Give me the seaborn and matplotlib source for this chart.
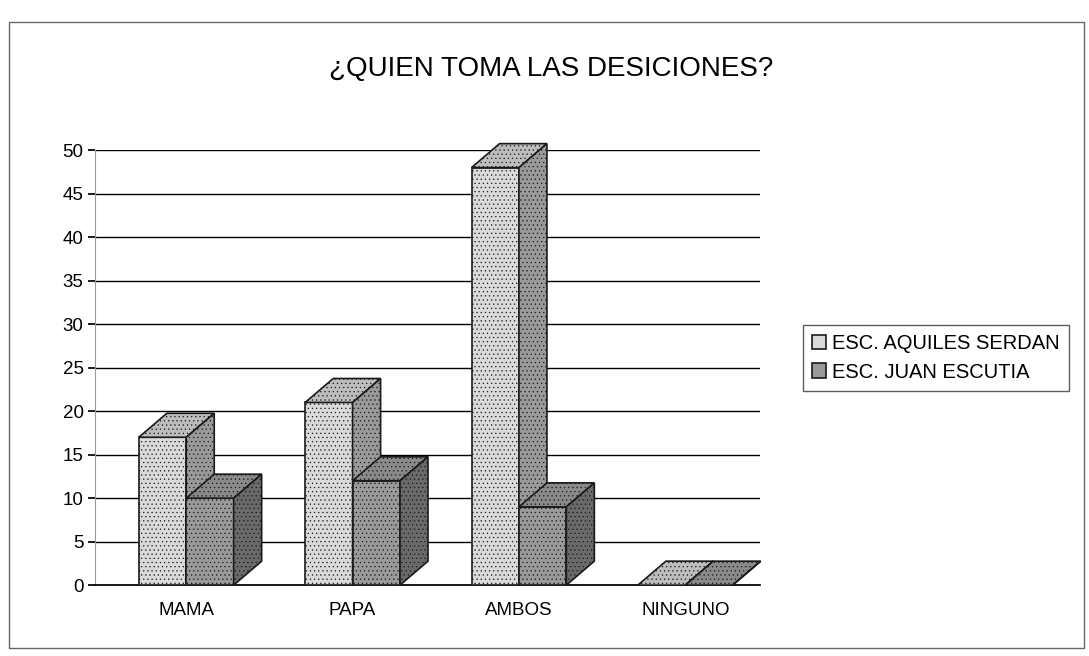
import numpy as np
import pandas as pd
import seaborn as sns
import matplotlib.pyplot as plt
from matplotlib.patches import Polygon, Rectangle

# Datos
categorias = ["MAMA", "PAPA", "AMBOS", "NINGUNO"]
escuelas = ["ESC. AQUILES SERDAN", "ESC. JUAN ESCUTIA"]
aquiles = [17, 21, 48, 0]
juan = [10, 12, 9, 0]

df = pd.DataFrame({
    "Respuesta": categorias * 2,
    "Escuela": [escuelas[0]] * len(categorias) + [escuelas[1]] * len(categorias),
    "Valor": aquiles + juan,
})

sns.set_theme(style="white")
plt.rcParams['font.family'] = ['Liberation Sans', 'DejaVu Sans']
plt.rcParams['text.color'] = 'black'
plt.rcParams['xtick.color'] = 'black'
plt.rcParams['ytick.color'] = 'black'
plt.rcParams['hatch.color'] = '#8a8a8a'
plt.rcParams['hatch.linewidth'] = 0.4

fig = plt.figure(figsize=(10.89, 6.56), dpi=100)
ax = fig.add_axes([0.087, 0.108, 0.611, 0.663])

sns.barplot(data=df, x="Respuesta", y="Valor", hue="Escuela",
            palette=["#dadada", "#9a9a9a"], saturation=1, width=0.57,
            edgecolor="#1a1a1a", linewidth=1.2, ax=ax)

ax.set_ylim(0, 50)
ax.set_xlim(-0.55, 3.45)

# profundidad "3D" en unidades de datos (a partir de pixeles)
px_x = 665 / 4.0
px_y = 435 / 50.0
dx = 28 / px_x
dy = 24 / px_y

colores_top = ["#bdbdbd", "#8a8a8a"]
colores_lado = ["#9a9a9a", "#6a6a6a"]

for s, cont in enumerate(ax.containers):
    for i, bar in enumerate(cont):
        x0 = bar.get_x()
        w = bar.get_width()
        h = bar.get_height()
        base = 3 + i * 10 + s * 3
        bar.set_zorder(base)
        bar.set_hatch('....')
        top = Polygon([(x0, h), (x0 + dx, h + dy), (x0 + w + dx, h + dy), (x0 + w, h)],
                      closed=True, facecolor=colores_top[s], edgecolor="#1a1a1a",
                      lw=1.2, hatch='....', zorder=base + 1, clip_on=False)
        lado = Polygon([(x0 + w, 0), (x0 + w + dx, dy), (x0 + w + dx, h + dy), (x0 + w, h)],
                       closed=True, facecolor=colores_lado[s], edgecolor="#1a1a1a",
                       lw=1.2, hatch='....', zorder=base + 1, clip_on=False)
        ax.add_patch(top)
        ax.add_patch(lado)

ax.set_yticks(np.arange(0, 51, 5))
ax.yaxis.grid(True, color="black", linewidth=1)
ax.set_axisbelow(True)
for side in ["top", "right"]:
    ax.spines[side].set_visible(False)
ax.spines["left"].set_color("#999999")
ax.spines["left"].set_linewidth(0.8)
ax.spines["bottom"].set_color("black")
ax.tick_params(axis="y", left=True, length=5, color="black", labelsize=13.5, pad=3)
ax.tick_params(axis="x", bottom=False, labelsize=13.5, pad=6)
ax.set_xlabel("")
ax.set_ylabel("")

handles, labels = ax.get_legend_handles_labels()
ax.get_legend().remove()
leg = fig.legend(handles, labels, loc="center left",
                 bbox_to_anchor=(803 / 1089, 1 - 358 / 656), borderaxespad=0,
                 fontsize=14.5, frameon=True, fancybox=False, edgecolor="#333333",
                 handlelength=0.7, handleheight=0.7, handletextpad=0.3,
                 borderpad=0.45, labelspacing=0.45)
leg.get_frame().set_linewidth(1)

fig.text(0.506, 0.895, "¿QUIEN TOMA LAS DESICIONES?", ha="center", va="center",
         fontsize=20)

fig.patches.append(Rectangle((0.008, 0.012), 0.987, 0.955, transform=fig.transFigure,
                             fill=False, edgecolor="#666666", lw=1))

fig.savefig("out.png", dpi=100)
